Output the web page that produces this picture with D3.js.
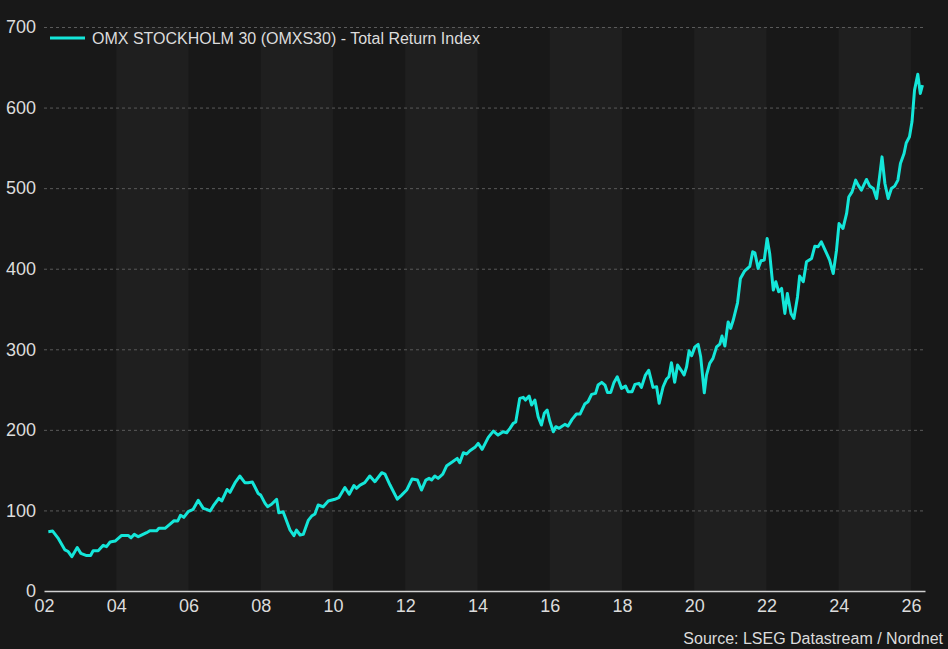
<!DOCTYPE html>
<html>
<head>
<meta charset="utf-8">
<script src="https://cdn.jsdelivr.net/npm/d3@7"></script>
<style>
    body { margin: 0; background: #181818; }
    svg { display: block; font-family: "Liberation Sans", Arial, sans-serif; }
</style>
</head>
<body>
<svg id="chart" width="948" height="649"></svg>
<script>
// Month positions as decimal years
const years = [
    2002.12, 2002.24, 2002.40, 2002.58, 2002.67, 2002.77, 2002.92, 2003.02, 2003.18, 2003.29,
    2003.36, 2003.50, 2003.64, 2003.73, 2003.83, 2003.97, 2004.15, 2004.33, 2004.41, 2004.50,
    2004.61, 2004.84, 2004.93, 2005.12, 2005.18, 2005.35, 2005.49, 2005.60, 2005.70, 2005.78,
    2005.87, 2005.99, 2006.13, 2006.27, 2006.41, 2006.50, 2006.60, 2006.69, 2006.84, 2006.92,
    2007.07, 2007.15, 2007.29, 2007.42, 2007.56, 2007.65, 2007.77, 2007.93, 2008.00, 2008.12,
    2008.19, 2008.30, 2008.44, 2008.50, 2008.62, 2008.81, 2008.92, 2008.99, 2009.09, 2009.18,
    2009.32, 2009.41, 2009.50, 2009.59, 2009.73, 2009.87, 2010.05, 2010.16, 2010.33, 2010.45,
    2010.58, 2010.65, 2010.75, 2010.88, 2011.02, 2011.16, 2011.35, 2011.44, 2011.58, 2011.78,
    2011.90, 2012.04, 2012.19, 2012.34, 2012.45, 2012.57, 2012.66, 2012.73, 2012.82, 2012.91,
    2013.04, 2013.15, 2013.31, 2013.44, 2013.51, 2013.61, 2013.70, 2013.79, 2013.93, 2014.02,
    2014.13, 2014.30, 2014.44, 2014.57, 2014.71, 2014.81, 2014.90, 2014.99, 2015.06, 2015.17,
    2015.27, 2015.33, 2015.43, 2015.50, 2015.59, 2015.68, 2015.77, 2015.85, 2015.93, 2016.00,
    2016.10, 2016.17, 2016.26, 2016.42, 2016.51, 2016.62, 2016.74, 2016.84, 2016.97, 2017.06,
    2017.16, 2017.27, 2017.34, 2017.44, 2017.53, 2017.60, 2017.69, 2017.78, 2017.87, 2017.99,
    2018.10, 2018.17, 2018.28, 2018.36, 2018.47, 2018.54, 2018.65, 2018.74, 2018.86, 2018.96,
    2019.03, 2019.14, 2019.23, 2019.30, 2019.37, 2019.46, 2019.54, 2019.65, 2019.72, 2019.79,
    2019.86, 2019.93, 2020.02, 2020.11, 2020.18, 2020.28, 2020.34, 2020.43, 2020.52, 2020.62,
    2020.71, 2020.77, 2020.85, 2020.94, 2021.01, 2021.08, 2021.20, 2021.28, 2021.40, 2021.54,
    2021.62, 2021.68, 2021.77, 2021.85, 2021.94, 2022.02, 2022.09, 2022.19, 2022.26, 2022.34,
    2022.42, 2022.51, 2022.58, 2022.68, 2022.76, 2022.86, 2022.92, 2023.02, 2023.11, 2023.25,
    2023.34, 2023.43, 2023.52, 2023.66, 2023.75, 2023.85, 2023.94, 2024.01, 2024.12, 2024.22,
    2024.28, 2024.37, 2024.47, 2024.54, 2024.63, 2024.77, 2024.86, 2024.96, 2025.05, 2025.12,
    2025.20, 2025.28, 2025.37, 2025.46, 2025.55, 2025.64, 2025.71, 2025.81, 2025.87, 2025.96,
    2026.03, 2026.10, 2026.19, 2026.26, 2026.32
];

const values = [
    73.6, 74.4, 65, 51, 49, 42.6, 54, 46.7, 44, 44,
    50, 50, 56.7, 55, 60.8, 62, 69, 69, 66, 70.3,
    67.4, 72.4, 74.8, 74.8, 77.8, 77.8, 83, 87.2, 86.8, 94,
    91.4, 98.4, 101.4, 112.5, 102.6, 101.3, 99.3, 105.9, 115, 111.7,
    126, 122.5, 134.4, 142.7, 134.4, 134.4, 135.2, 121, 119, 108.8,
    104.6, 107.6, 113.8, 97, 98.4, 75.7, 68.6, 75.7, 69.5, 70.3,
    88, 93, 95.5, 106.7, 104.6, 111.7, 113.8, 115.8, 128.5, 120,
    131, 127.4, 131.5, 134.4, 142.7, 135.6, 146.8, 145, 131.5, 114,
    119, 125.3, 139, 137.7, 125.3, 137.7, 139.8, 137.7, 142.7, 139.8,
    145, 155.5, 160.4, 164.6, 159.2, 171.6, 170, 174, 178.3, 183.2,
    175.8, 190.7, 198.5, 193.5, 197.7, 196.4, 201.9, 208, 209.7, 239,
    240.3, 237, 242, 230.8, 237, 216.3, 206, 220.5, 224.6, 211.3,
    197.7, 203.9, 201.9, 206.8, 204.7, 213, 219.6, 219.6, 232, 234.9,
    244, 245.3, 255.6, 258.9, 255.6, 246.5, 246.5, 258.9, 265.9, 251.5,
    254.3, 247.3, 247.3, 256.5, 257.7, 252.7, 268, 274, 252.7, 253.5,
    232.9, 253.5, 262.7, 266, 283.3, 259, 280.4, 273.3, 268, 278.3,
    298.1, 292, 303, 306, 290.7, 246, 268, 282.5, 288.7, 303,
    306.5, 316.4, 304, 334, 326, 336, 357.7, 388, 397.4, 403,
    421, 419.7, 400.4, 409.8, 410.7, 437.6, 419, 373.5, 383.8, 371.3,
    375.6, 344.5, 369.3, 344.5, 338.3, 365, 391, 383.8, 408.6, 412.7,
    428, 427.2, 433.4, 419.7, 410.7, 394, 423, 456, 450, 468.6,
    489, 495.4, 510, 503.7, 497.5, 510.8, 502.5, 499.6, 487.2, 510,
    538.8, 505.8, 487.2, 499.6, 502.5, 510, 530.6, 543, 556, 563.7,
    582.3, 621.6, 641.4, 617.5, 627.8
];

const xTicks = [2002, 2004, 2006, 2008, 2010, 2012, 2014, 2016, 2018, 2020, 2022, 2024, 2026];
const yTicks = [0, 100, 200, 300, 400, 500, 600, 700];
const bandStarts = [2004, 2008, 2012, 2016, 2020, 2024];

const seriesName = "OMX STOCKHOLM 30 (OMXS30) - Total Return Index";
const sourceText = "Source: LSEG Datastream / Nordnet";

const colours = {
    background: "#181818",
    band: "#1f1f1f",
    grid: "#5a5a5a",
    axis: "#d0d0d0",
    text: "#dcdcdc",
    line: "#14e6d9"
};

const svg = d3.select("#chart");
const width = +svg.attr("width"),
      height = +svg.attr("height");

// plot frame (window.top is taken, hence the prefix)
const plotLeft = 44, plotRight = 925, plotTop = 27, plotBottom = 591;

const x = d3.scaleLinear()
            .domain([2002, 2026.39])
            .range([plotLeft, plotRight]);

const y = d3.scaleLinear()
            .domain([0, 700])
            .range([plotBottom, plotTop]);

svg.append("rect")
   .attr("width", width)
   .attr("height", height)
   .attr("fill", colours.background);

// alternating two-year bands
svg.append("g")
   .selectAll("rect")
   .data(bandStarts)
   .enter()
   .append("rect")
   .attr("x", d => x(d))
   .attr("width", d => x(d + 2) - x(d))
   .attr("y", plotTop)
   .attr("height", plotBottom - plotTop)
   .attr("fill", colours.band);

// y axis: dashed grid + labels
const yAxis = svg.append("g")
                 .attr("transform", "translate(" + plotLeft + ",0)")
                 .call(d3.axisLeft(y)
                         .tickValues(yTicks)
                         .tickSize(-(plotRight - plotLeft))
                         .tickPadding(8)
                         .tickFormat(d3.format("d")));

yAxis.select(".domain").remove();
yAxis.selectAll(".tick line")
     .attr("stroke", colours.grid)
     .attr("stroke-dasharray", "3,3")
     .attr("stroke-width", 1)
     .filter(d => d === 0)
     .remove();
yAxis.selectAll(".tick text")
     .attr("fill", colours.text)
     .style("font-size", "18px");

// x axis
const xAxis = svg.append("g")
                 .attr("transform", "translate(0," + plotBottom + ")")
                 .call(d3.axisBottom(x)
                         .tickValues(xTicks)
                         .tickSize(0)
                         .tickPadding(8)
                         .tickFormat(d => String(d % 100).padStart(2, "0")));

xAxis.select(".domain")
     .attr("stroke", colours.axis)
     .attr("stroke-width", 1.5);
xAxis.selectAll(".tick text")
     .attr("fill", colours.text)
     .style("font-size", "18px");

// the series
const line = d3.line()
               .x((d, i) => x(years[i]))
               .y(d => y(d));

svg.append("path")
   .datum(values)
   .attr("fill", "none")
   .attr("stroke", colours.line)
   .attr("stroke-width", 3)
   .attr("stroke-linejoin", "round")
   .attr("d", line);

// legend
const legend = svg.append("g")
                  .attr("class", "legend")
                  .attr("transform", "translate(50,38)");

legend.append("line")
      .attr("x1", 0)
      .attr("x2", 35)
      .attr("stroke", colours.line)
      .attr("stroke-width", 3);

legend.append("text")
      .attr("x", 42)
      .attr("dy", "0.35em")
      .attr("fill", colours.text)
      .style("font-size", "16px")
      .text(seriesName);

svg.append("text")
   .attr("x", 943)
   .attr("y", 644)
   .attr("text-anchor", "end")
   .attr("fill", colours.text)
   .style("font-size", "16px")
   .text(sourceText);
</script>
</body>
</html>
